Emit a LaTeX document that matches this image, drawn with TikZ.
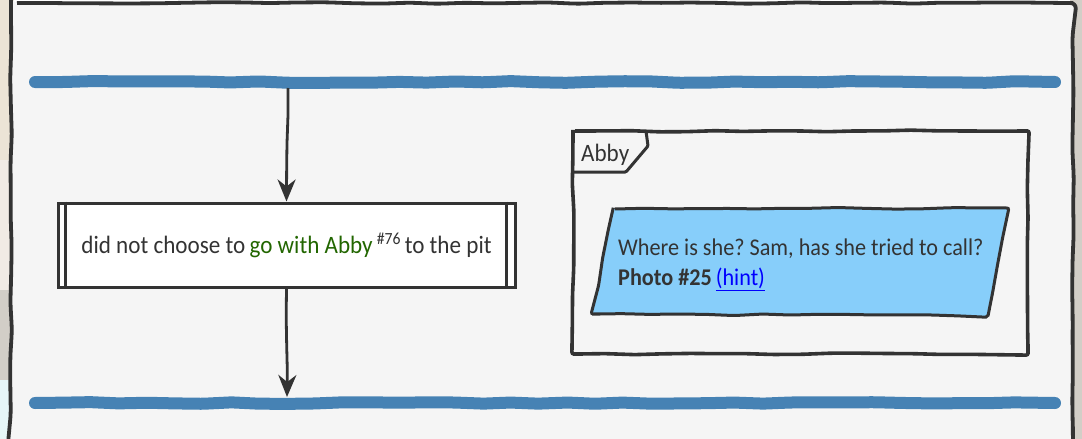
\documentclass[tikz,border=0pt]{standalone}
\usepackage{fontspec}
\setmainfont[FakeStretch=0.925]{Carlito}
\usetikzlibrary{arrows.meta,decorations.pathmorphing}
\definecolor{ink}{HTML}{333333}
\definecolor{barblue}{HTML}{4682B4}
\definecolor{paper}{HTML}{F5F5F5}
\definecolor{skyfill}{HTML}{87CEFA}
\definecolor{linkgreen}{HTML}{226600}
\definecolor{hintblue}{HTML}{0000FF}
\definecolor{photoA}{HTML}{ECE4D6}
\definecolor{photoD}{HTML}{F1EBE5}
\definecolor{photoB}{HTML}{D2CEC7}
\definecolor{photoC}{HTML}{E6F6F8}
\frenchspacing
\begin{document}
\begin{tikzpicture}[x=1pt,y=-1pt,
  wob/.style={decorate,decoration={random steps,segment length=28pt,amplitude=0.9pt},rounded corners=2pt},
  bar/.style={barblue,line width=12pt,line cap=round,wob},
  flow/.style={ink,line width=2.8pt,-{Stealth[length=22pt,width=18pt,inset=7pt]}},
  txt/.style={text=ink,font=\fontsize{25}{28}\selectfont,inner sep=0pt},
  notetxt/.style={text=ink,font=\fontsize{24}{28}\selectfont,inner sep=0pt},
  stepbox/.style={draw=ink,fill=white,line width=3pt,minimum width=457pt,minimum height=84pt,inner sep=0pt,text=ink,font=\fontsize{25}{28}\selectfont}
]
\pgfmathsetseed{11}
\useasboundingbox (0,0) rectangle (1082,439);
% background outside the frame
\fill[photoA] (0,0) rectangle (14,160);
\fill[photoD] (0,160) rectangle (14,290);
\fill[photoB] (0,290) rectangle (14,380);
\fill[photoC] (0,380) rectangle (14,439);
\fill[photoB] (1070,0) rectangle (1082,439);
% outer frame
\draw[ink,fill=paper,line width=3.8pt,wob,rounded corners=6pt] (11,3) -- (1073,3) -- (1073,448) -- (11,448) -- cycle;
% swimlane bars
\coordinate (t1) at (35,82);
\coordinate (t2) at (1055,82);
\coordinate (b1) at (35,403);
\coordinate (b2) at (1055,403);
\draw[bar] (t1) -- (t2);
\draw[bar] (b1) -- (b2);
\coordinate (tstart) at (288,88);
\coordinate (bend) at (287,397);
% activity box
\node[stepbox] (act) at (286.5,245) {did not choose to\,\textcolor{linkgreen}{go with Abby}\,\raisebox{9pt}{\fontsize{17}{18}\selectfont\#76}\,to the pit};
\draw[ink,line width=2.4pt] ([xshift=9pt]act.north west) -- ([xshift=9pt]act.south west);
\draw[ink,line width=2.4pt] ([xshift=-10pt]act.north east) -- ([xshift=-10pt]act.south east);
\draw[flow,wob] (tstart) -- (act.north);
\draw[flow,wob] (act.south) -- (bend);
% group box Abby
\draw[ink,line width=3.6pt,rounded corners=6pt,wob] (573,131) -- (1028,131) -- (1028,354) -- (573,354) -- cycle;
\node[txt,anchor=base west] (grp) at (581,161) {Abby};
\draw[ink,line width=3pt,rounded corners=1pt] (573,172) -- (626,172) -- (648,146) -- (646,131);
% note parallelogram
\draw[ink,fill=skyfill,line width=3pt,wob] (613,209) -- (1008,208) -- (988,316) -- (592,314) -- cycle;
\node[notetxt,anchor=base west] (note1) at (618,255) {Where is she? Sam, has she tried to call?};
\node[notetxt,anchor=base west] (note2) at (618,285) {\textbf{Photo \#25}\,\textcolor{hintblue}{\underline{(hint)}}};
\end{tikzpicture}
\end{document}
